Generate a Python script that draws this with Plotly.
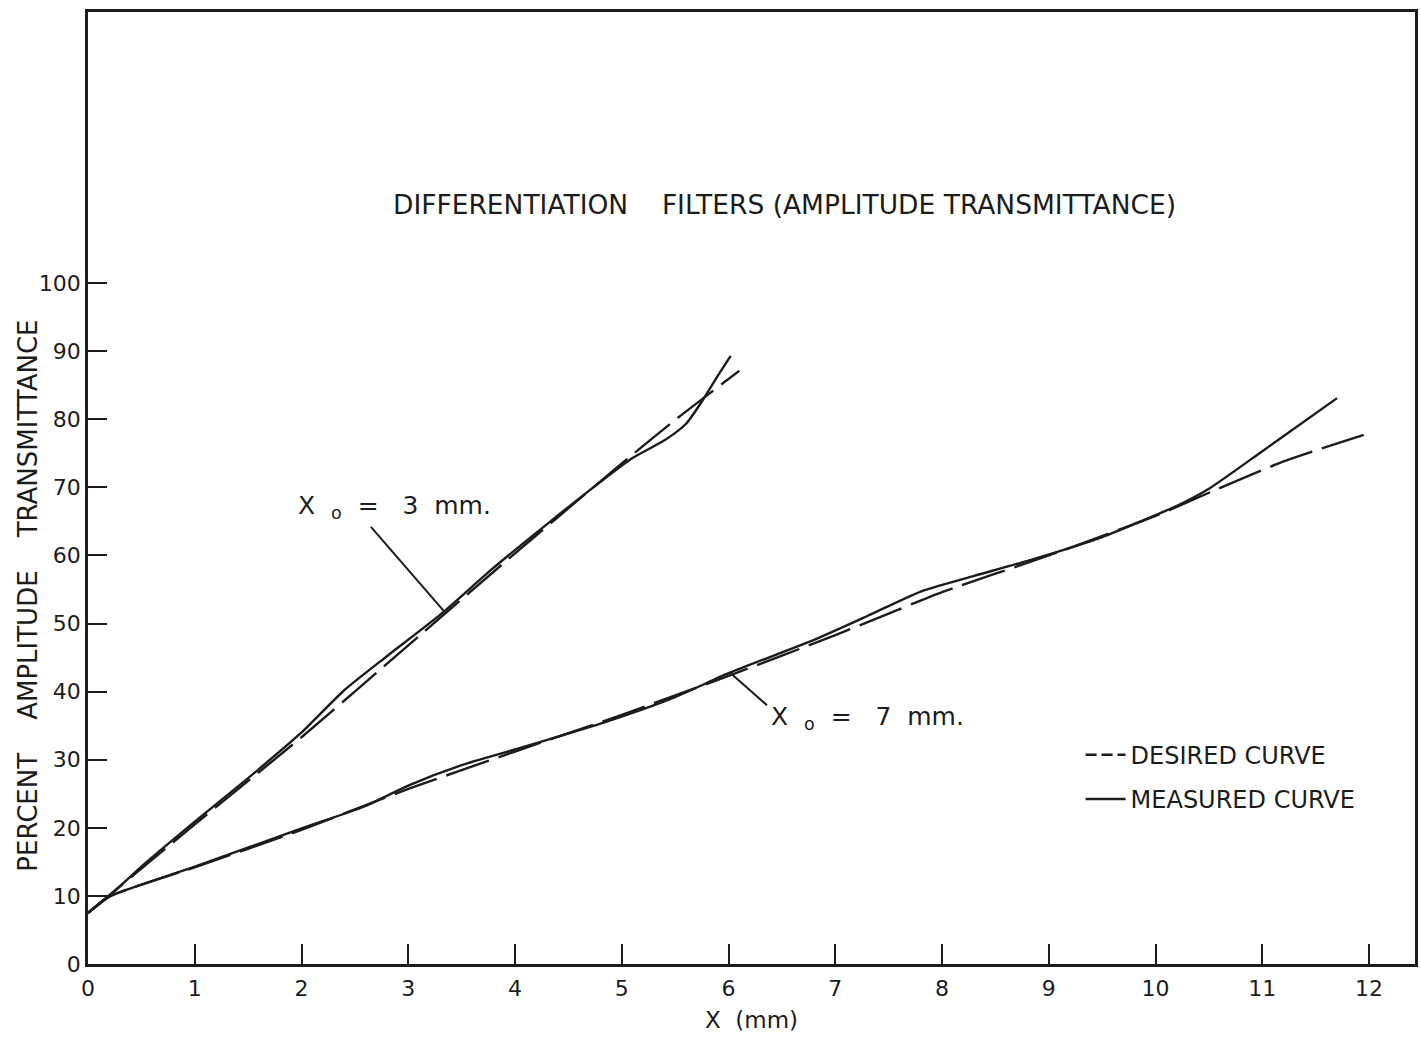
import plotly.graph_objects as go

# ---- data ----
x_meas_3 = [0, 0.2, 0.5, 1.0, 1.5, 2.0, 2.4, 2.8, 3.3, 3.8, 4.3, 4.8, 5.1, 5.4, 5.6, 5.75, 5.9, 6.02]
y_meas_3 = [7.5, 10.0, 14.3, 20.9, 27.3, 34.0, 40.2, 45.2, 51.3, 58.2, 64.6, 70.8, 74.3, 76.9, 79.3, 82.6, 86.4, 89.3]

x_des_3 = [0, 1, 2, 3, 4, 5, 5.5, 6.1]
y_des_3 = [7.5, 20.5, 33.3, 46.8, 60.3, 73.5, 79.9, 87.1]

x_meas_7 = [0, 0.2, 1, 2, 2.6, 3, 3.5, 4, 4.8, 5.5, 6, 6.8, 7.3, 7.8, 8.3, 8.8, 9.5, 10.2, 10.5, 11.0, 11.7]
y_meas_7 = [7.5, 9.9, 14.3, 19.9, 23.2, 26.2, 29.2, 31.5, 35.3, 39.2, 42.7, 47.6, 51.1, 54.7, 57.0, 59.2, 62.7, 67.3, 69.8, 75.3, 83.1]

x_des_7 = [0, 0.2, 1, 2, 3, 4, 5, 6, 7, 8, 9, 10, 10.5, 11.2, 11.95]
y_des_7 = [7.5, 9.9, 14.2, 19.7, 25.7, 31.2, 36.6, 42.3, 48.3, 54.6, 60.0, 65.8, 69.2, 73.8, 77.7]

x_ticks = list(range(0, 13))
y_ticks = list(range(0, 101, 10))

title_text = "DIFFERENTIATION\u00a0\u00a0\u00a0\u00a0FILTERS (AMPLITUDE TRANSMITTANCE)"
y_label = "PERCENT\u00a0\u00a0\u00a0\u00a0AMPLITUDE\u00a0\u00a0\u00a0\u00a0TRANSMITTANCE"
x_label = "X\u00a0\u00a0(mm)"
label_3 = "X\u00a0\u00a0<sub>o</sub>\u00a0\u00a0=\u00a0\u00a0\u00a03\u00a0\u00a0mm."
label_7 = "X\u00a0\u00a0<sub>o</sub>\u00a0\u00a0=\u00a0\u00a0\u00a07\u00a0\u00a0mm."
legend_names = ["DESIRED CURVE", "MEASURED CURVE"]

INK = "#1c1c1c"
FONT = "DejaVu Sans"
LW = 2.4
DASH = "45px,10px"

fig = go.Figure()

for xs, ys in [(x_des_3, y_des_3), (x_des_7, y_des_7)]:
    fig.add_trace(go.Scatter(x=xs, y=ys, mode="lines", line=dict(color=INK, width=LW, dash=DASH, shape="spline", smoothing=0.6),
                             showlegend=False, hoverinfo="skip"))
for xs, ys in [(x_meas_3, y_meas_3), (x_meas_7, y_meas_7)]:
    fig.add_trace(go.Scatter(x=xs, y=ys, mode="lines", line=dict(color=INK, width=LW, shape="spline", smoothing=0.6),
                             showlegend=False, hoverinfo="skip"))

# legend-only entries
fig.add_trace(go.Scatter(x=[None], y=[None], mode="lines", name=legend_names[0], legendgroup="a",
                         line=dict(color=INK, width=LW, dash="11px,5px")))
fig.add_trace(go.Scatter(x=[None], y=[None], mode="lines", name=legend_names[1], legendgroup="b",
                         line=dict(color=INK, width=LW)))

# leader lines for curve labels
fig.add_shape(type="line", xref="x", yref="y", x0=2.65, y0=64.2, x1=3.34, y1=51.7, line=dict(color=INK, width=2))
fig.add_shape(type="line", xref="x", yref="y", x0=6.02, y0=42.7, x1=6.36, y1=38.0, line=dict(color=INK, width=2))

fig.add_annotation(x=1.95, y=67.1, xref="x", yref="y", text=label_3, showarrow=False, xanchor="left", yanchor="middle",
                   font=dict(family=FONT, size=25, color=INK))
fig.add_annotation(x=6.38, y=36.1, xref="x", yref="y", text=label_7, showarrow=False, xanchor="left", yanchor="middle",
                   font=dict(family=FONT, size=25, color=INK))

fig.add_annotation(x=0.2286, y=0.798, xref="paper", yref="paper", text=title_text, showarrow=False,
                   xanchor="left", yanchor="middle", font=dict(family=FONT, size=26.5, color=INK))
fig.add_annotation(x=-0.0459, y=0.387, xref="paper", yref="paper", text=y_label, showarrow=False, textangle=-90,
                   xanchor="center", yanchor="middle", font=dict(family=FONT, size=26, color=INK))

fig.update_layout(
    width=1421, height=1046,
    margin=dict(l=88, r=3, t=12, b=82),
    paper_bgcolor="white", plot_bgcolor="white",
    font=dict(family=FONT, size=22, color=INK),
    showlegend=True,
    legend=dict(x=0.748, y=0.243, xanchor="left", yanchor="top", bgcolor="rgba(0,0,0,0)",
                font=dict(family=FONT, size=24, color=INK), tracegroupgap=10, traceorder="grouped",
                itemwidth=40),
)
fig.update_xaxes(range=[0, 12.43], tickvals=x_ticks, ticktext=[str(v) for v in x_ticks], ticks="inside", ticklen=20,
                 tickwidth=2, tickcolor=INK, showline=True, linewidth=2.5, linecolor=INK, mirror=True,
                 showgrid=False, zeroline=False, tickfont=dict(family=FONT, size=22, color=INK),
                 ticklabelstandoff=3,
                 title=dict(text=x_label, font=dict(family=FONT, size=23, color=INK), standoff=12))
fig.update_yaxes(range=[0, 139.8], tickvals=y_ticks, ticktext=[str(v) for v in y_ticks], ticks="inside", ticklen=19,
                 tickwidth=2, tickcolor=INK, showline=True, linewidth=2.5, linecolor=INK, mirror=True,
                 showgrid=False, zeroline=False, tickfont=dict(family=FONT, size=22, color=INK))

fig.write_html("out.html")
